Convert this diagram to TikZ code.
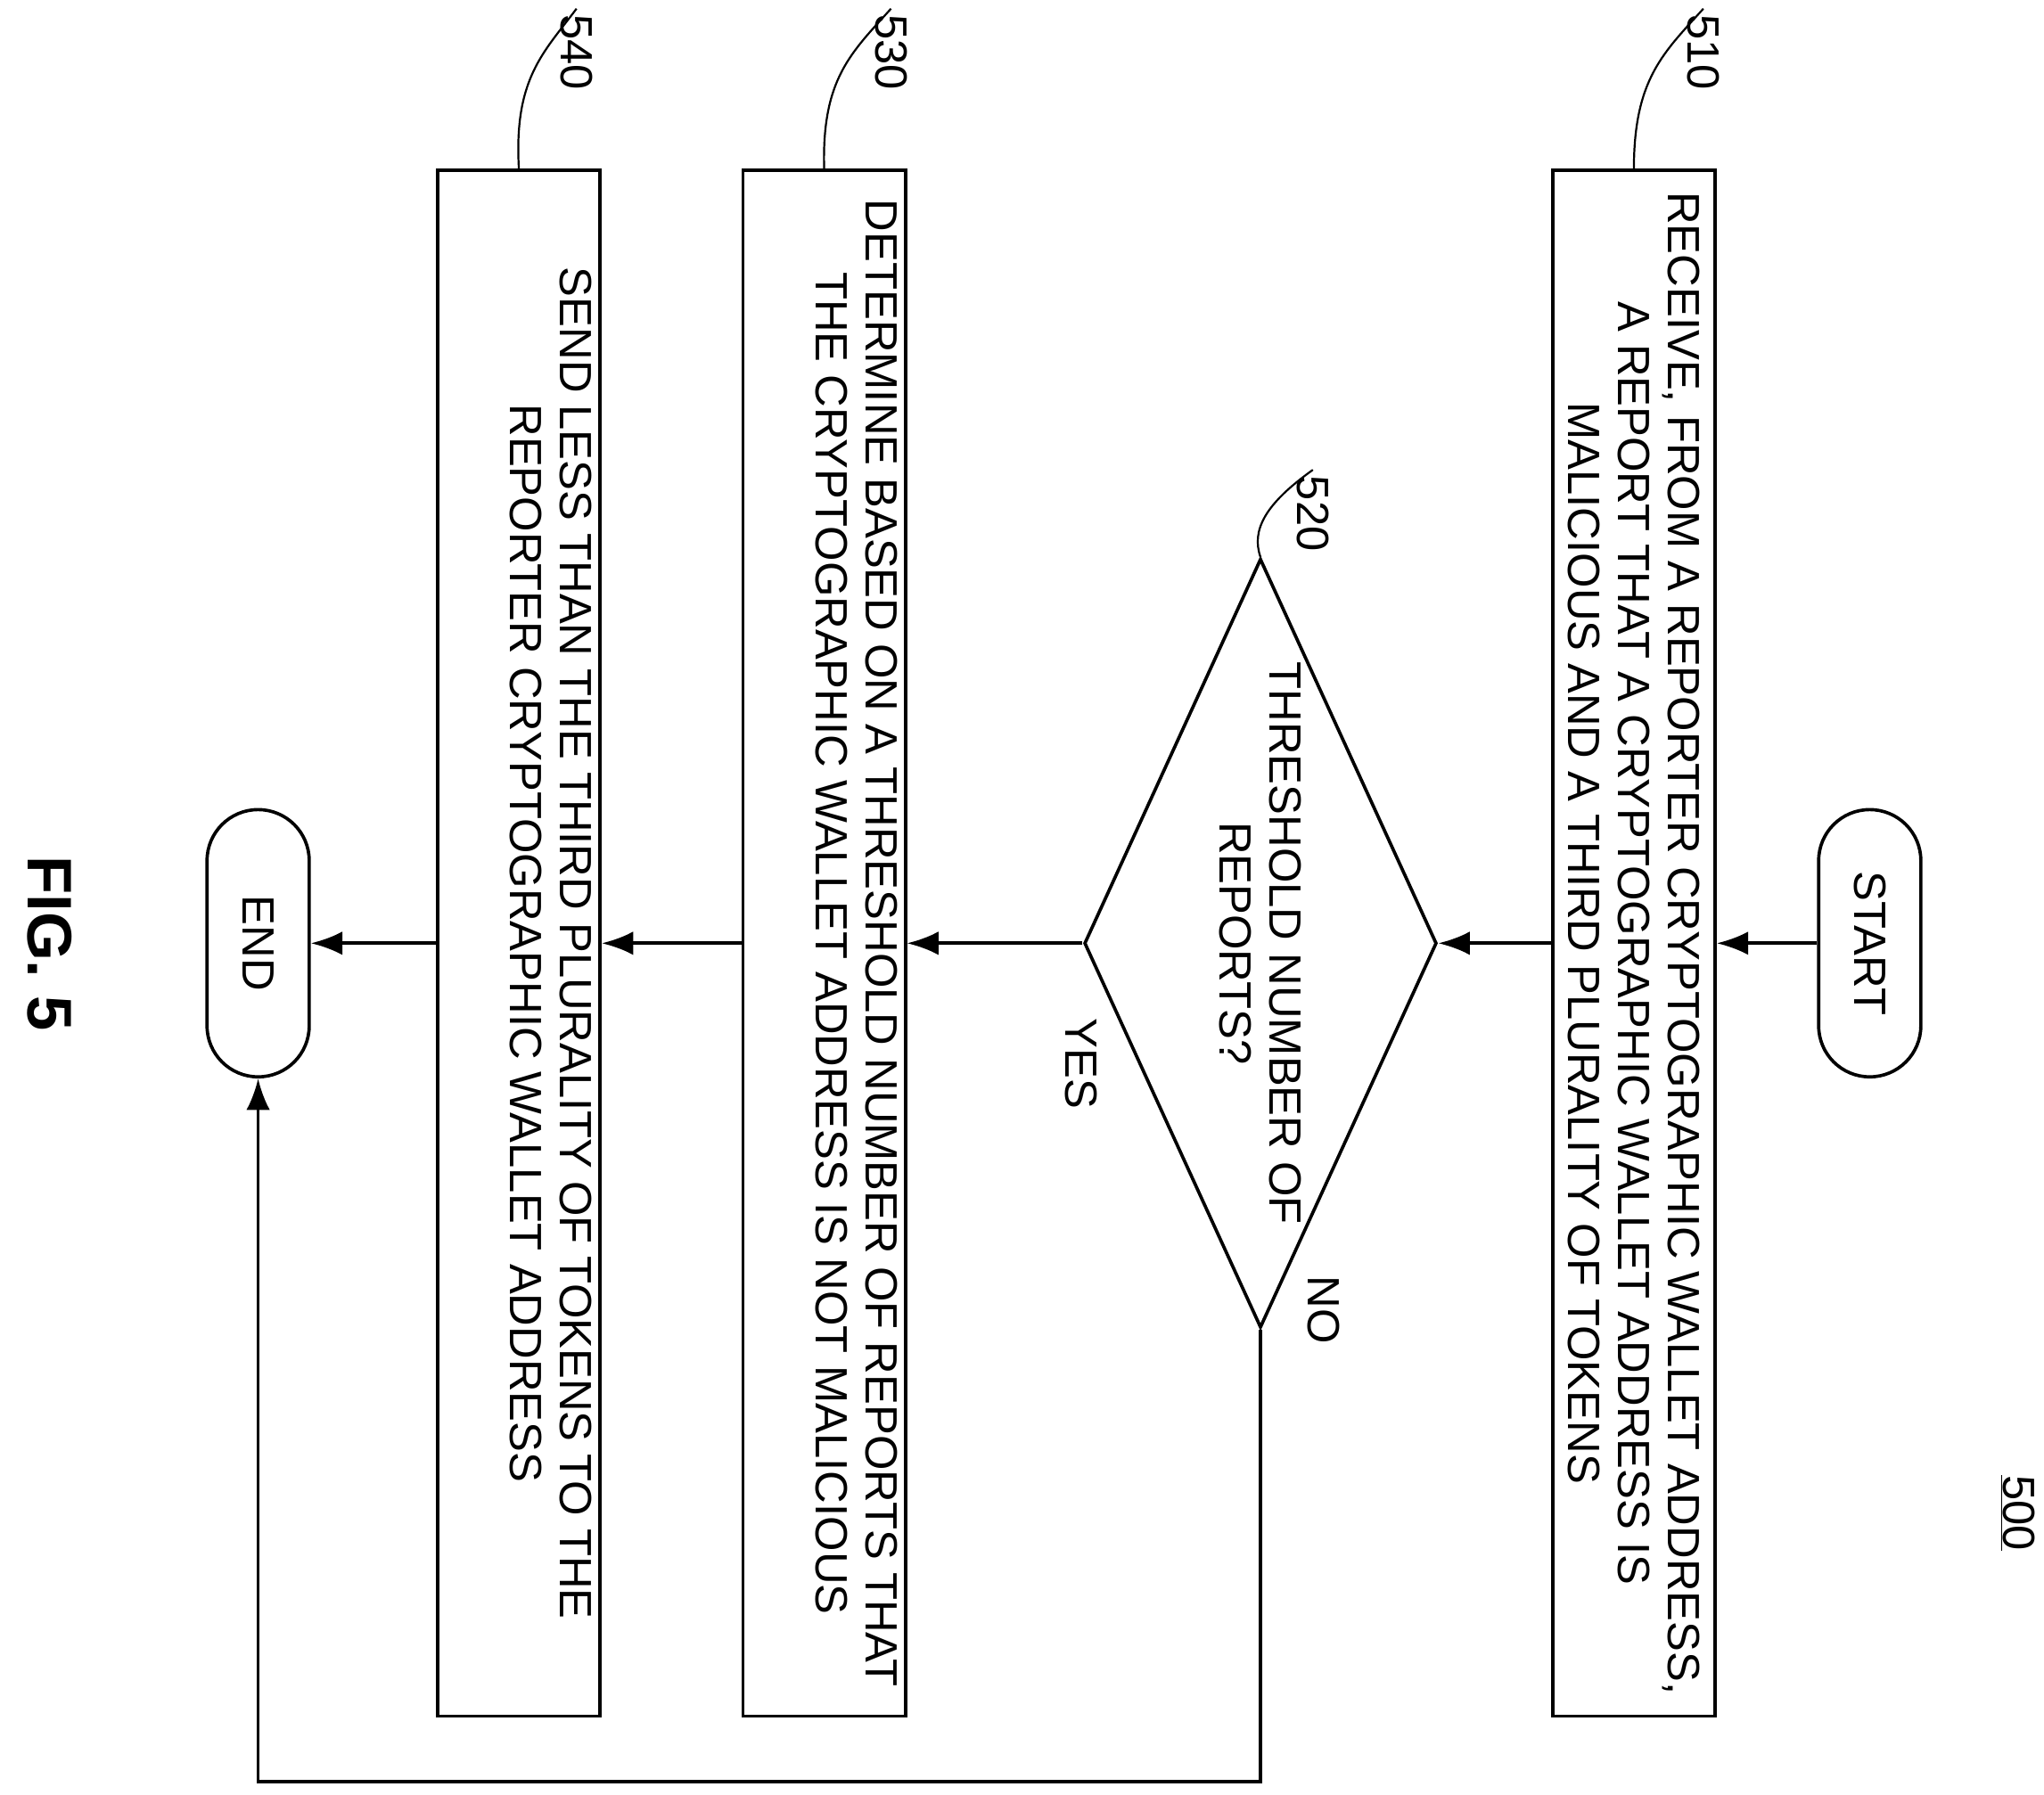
\documentclass[tikz,border=0pt]{standalone}
\usepackage{fontspec}
\setmainfont{Liberation Sans}
\usetikzlibrary{shapes.geometric,arrows.meta}
\begin{document}
\begin{tikzpicture}[x=1pt,y=-1pt,line width=2.5pt,
  txt/.style={font=\fontsize{34.5}{38}\selectfont},
  box/.style={draw,rectangle,rotate=-90,minimum width=1180pt,minimum height=124pt,inner sep=0pt,align=center,txt},
  term/.style={draw,rectangle,rounded corners=39pt,rotate=-90,minimum width=204pt,minimum height=78pt,inner sep=0pt,txt},
  arr/.style={-{Latex[length=24pt,width=18pt]}},
  lbl/.style={rotate=-90,txt}]
\useasboundingbox (0,0) rectangle (1560,1370);
\node[term] (start) at (1427,720) {START};
\node[box] (b510) at (1247,720) {RECEIVE, FROM A REPORTER CRYPTOGRAPHIC WALLET ADDRESS,\\A REPORT THAT A CRYPTOGRAPHIC WALLET ADDRESS IS\\MALICIOUS AND A THIRD PLURALITY OF TOKENS};
\node[draw,diamond,rotate=-90,minimum width=587pt,minimum height=269pt,aspect=2.18,inner sep=0pt,align=center,txt] (d520) at (962,720) {THRESHOLD NUMBER OF\\REPORTS?};
\node[box] (b530) at (629,720) {DETERMINE BASED ON A THRESHOLD NUMBER OF REPORTS THAT\\THE CRYPTOGRAPHIC WALLET ADDRESS IS NOT MALICIOUS\\\strut};
\node[box] (b540) at (396,720) {SEND LESS THAN THE THIRD PLURALITY OF TOKENS TO THE\\REPORTER CRYPTOGRAPHIC WALLET ADDRESS\\\strut};
\node[term] (end) at (197,720) {END};
\draw[arr] (start) -- (b510);
\draw[arr] (b510) -- (d520);
\draw[arr] (d520) -- (b530);
\draw[arr] (b530) -- (b540);
\draw[arr] (b540) -- (end);
\coordinate (c1) at (962,1360);
\coordinate (c2) at (197,1360);
\draw[arr] (d520.east) -- (c1) -- (c2) -- (end);
\node[lbl] (yes) at (825,812) {YES};
\node[lbl] (no) at (1010,1000) {NO};
\node[lbl] (n500) at (1540,1155) {\underline{500}};
\node[rotate=-90,font=\fontsize{48}{50}\selectfont\bfseries] (fig) at (38,720) {FIG. 5};
\node[lbl] (l510) at (1300,40) {510};
\node[lbl] (l530) at (680,40) {530};
\node[lbl] (l540) at (440,40) {540};
\node[lbl] (l520) at (1002,392) {520};
\draw[line width=1.5pt] (b510.west) .. controls (1247,60) and (1270,40) .. (l510.west);
\draw[line width=1.5pt] (b530.west) .. controls (627,60) and (650,40) .. (l530.west);
\draw[line width=1.5pt] (b540.west) .. controls (392,60) and (415,40) .. (l540.west);
\draw[line width=1.5pt] (d520.west) .. controls (955,405) and (965,385) .. (l520.west);
\end{tikzpicture}
\end{document}
